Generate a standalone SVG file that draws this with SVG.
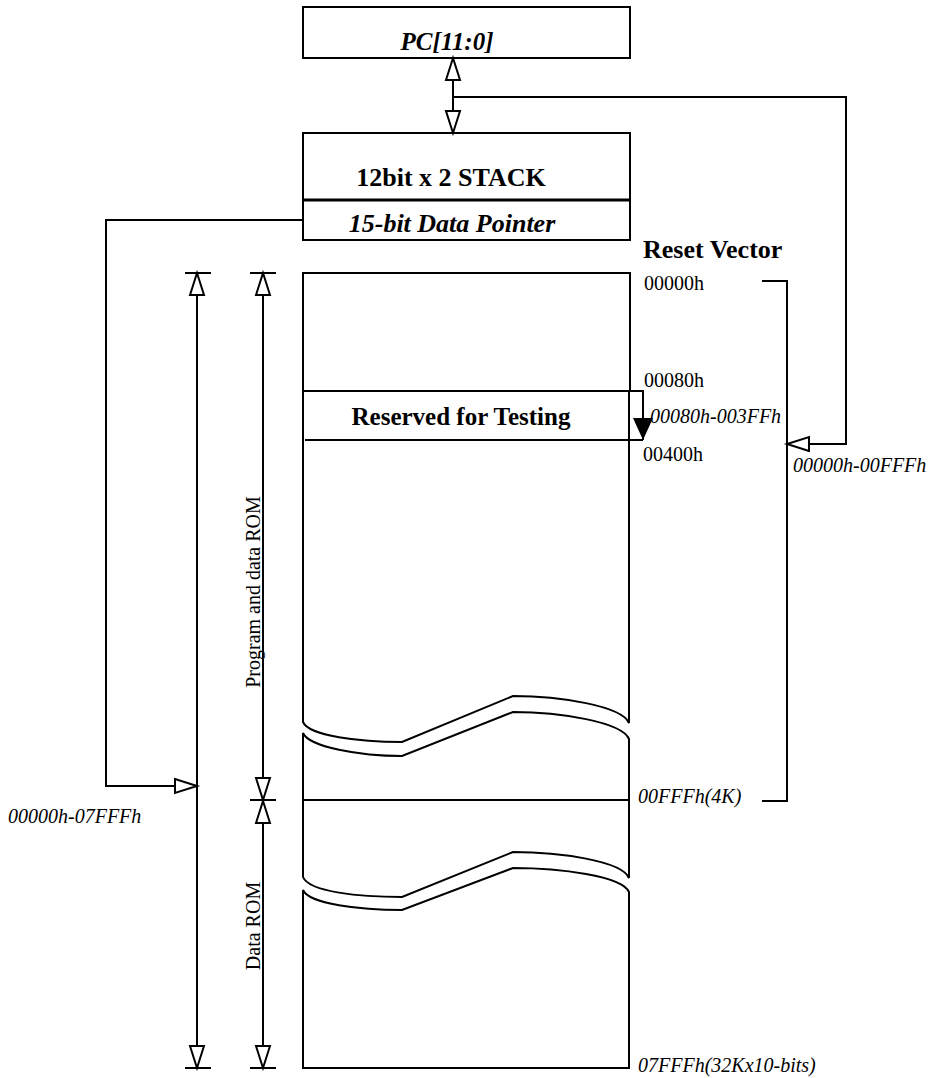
<svg xmlns="http://www.w3.org/2000/svg" width="937" height="1078" viewBox="0 0 937 1078">
<style>
  .ln{fill:none;stroke:#000;stroke-width:2}
  .box{fill:#fff;stroke:#000;stroke-width:2}
  text{font-family:"Liberation Serif","Times New Roman",serif;fill:#000}
  .b{font-weight:bold}
  .i{font-style:italic}
  .n{font-size:20px}
</style>
<defs>
  <marker id="open" viewBox="-2 -2 26 18" refX="22" refY="7" markerWidth="26" markerHeight="18" markerUnits="userSpaceOnUse" orient="auto-start-reverse" overflow="visible">
    <path d="M0,0 L22,7 L0,14 Z" fill="#fff" stroke="#000" stroke-width="2"/>
  </marker>
  <marker id="filled" viewBox="0 0 22 20" refX="22" refY="10" markerWidth="22" markerHeight="20" markerUnits="userSpaceOnUse" orient="auto" overflow="visible">
    <path d="M0,0 L22,10 L0,20 Z" fill="#000"/>
  </marker>
</defs>

<g id="pc">
  <rect class="box" x="303" y="7" width="327" height="51"/>
  <text class="b i" x="447" y="50" font-size="25" text-anchor="middle">PC[11:0]</text>
</g>

<g id="stack">
  <rect class="box" x="303" y="133" width="327" height="107"/>
  <line x1="303" y1="200" x2="630" y2="200" stroke="#000" stroke-width="3"/>
  <text class="b" x="451" y="186" font-size="26" text-anchor="middle">12bit x 2 STACK</text>
  <text class="b i" x="452" y="232" font-size="26" text-anchor="middle">15-bit Data Pointer</text>
</g>

<g id="memory">
  <rect class="box" x="303" y="273" width="327" height="118"/>
  <path class="ln" d="M303,391 V722 C309,736 360,742 402,742 L513,696 C560,696 622,706 629,723 V391"/>
  <path class="ln" d="M303,733 C309,747 360,756 402,756 L513,712 C560,712 622,722 629,739 V878 C622,861 560,852 513,852 L402,897 C360,897 309,892 303,877 Z"/>
  <line class="ln" x1="303" y1="800" x2="629" y2="800"/>
  <path class="ln" d="M303,890 C309,904 360,910 402,910 L513,868 C560,868 622,876 629,892 V1068 H303 Z"/>
</g>

<g id="reserved">
  <line class="ln" x1="305" y1="440" x2="643" y2="440"/>
  <text class="b" x="461" y="425" font-size="25" text-anchor="middle">Reserved for Testing</text>
</g>

<g id="labels">
  <text class="b" x="643" y="258" font-size="26">Reset Vector</text>
  <text class="n" x="644" y="290">00000h</text>
  <text class="n" x="644" y="387">00080h</text>
  <text class="n i" x="650" y="423">00080h-003FFh</text>
  <text class="n" x="643" y="461">00400h</text>
  <text class="n i" x="793" y="472">00000h-00FFFh</text>
  <text class="n i" x="638" y="803">00FFFh(4K)</text>
  <text class="n i" x="8" y="823">00000h-07FFFh</text>
  <text class="n i" x="638" y="1072">07FFFh(32Kx10-bits)</text>
  <text class="n" transform="translate(260,592) rotate(-90)" text-anchor="middle">Program and data ROM</text>
  <text class="n" transform="translate(260,926) rotate(-90)" text-anchor="middle">Data ROM</text>
</g>

<g id="connectors">
  <line class="ln" x1="453" y1="97" x2="453" y2="58" marker-end="url(#open)"/>
  <line class="ln" x1="453" y1="97" x2="453" y2="133" marker-end="url(#open)"/>
  <path class="ln" d="M453,97 H846 V444 H787" marker-end="url(#open)"/>
  <path class="ln" d="M303,220 H106 V786 H197" marker-end="url(#open)"/>
  <path class="ln" d="M303,391 H643 V440" marker-end="url(#filled)"/>
  <path class="ln" d="M762,281 H787 V801 H762"/>
  <line class="ln" x1="197" y1="273" x2="197" y2="1068" marker-start="url(#open)" marker-end="url(#open)"/>
  <line class="ln" x1="263" y1="273" x2="263" y2="800" marker-start="url(#open)" marker-end="url(#open)"/>
  <line class="ln" x1="263" y1="801" x2="263" y2="1068" marker-start="url(#open)" marker-end="url(#open)"/>
  <line class="ln" x1="185" y1="273" x2="211" y2="273"/>
  <line class="ln" x1="185" y1="1068" x2="211" y2="1068"/>
  <line class="ln" x1="250" y1="273" x2="276" y2="273"/>
  <line class="ln" x1="250" y1="800" x2="276" y2="800"/>
  <line class="ln" x1="250" y1="1068" x2="276" y2="1068"/>
</g>
</svg>
